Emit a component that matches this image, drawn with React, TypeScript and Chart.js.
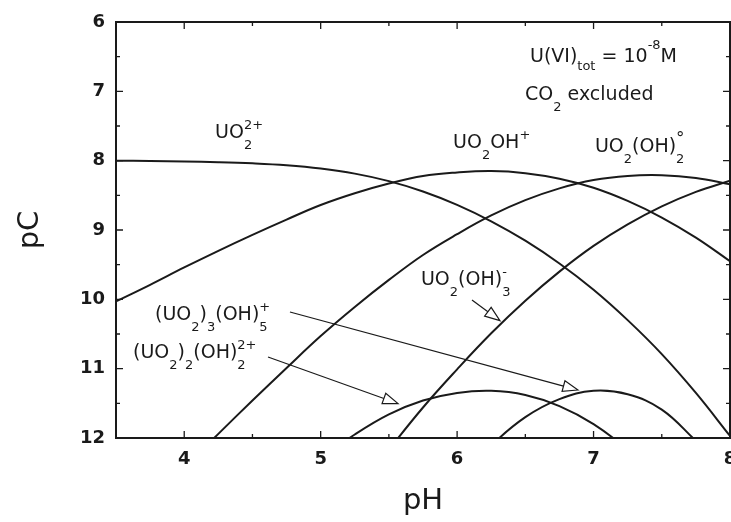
import React, { useEffect, useRef } from 'react';
import { Chart, registerables } from 'chart.js';

Chart.register(...registerables);

// pH grid (x values) and pC for each species
const pH = [3.5, 3.75, 4.0, 4.25, 4.5, 4.75, 5.0, 5.25, 5.5, 5.75, 6.0, 6.25, 6.5, 6.75, 7.0, 7.25, 7.5, 7.75, 8.0];
const pC_UO2 = [8.0, 8.005, 8.012, 8.022, 8.039, 8.067, 8.114, 8.187, 8.295, 8.444, 8.637, 8.874, 9.154, 9.483, 9.862, 10.3, 10.79, 11.35, 11.97];
const pC_UO2OH = [10.03, 9.79, 9.54, 9.3, 9.07, 8.85, 8.64, 8.47, 8.33, 8.22, 8.17, 8.15, 8.18, 8.26, 8.39, 8.58, 8.82, 9.11, 9.45];
const pC_UO2OH2 = [13.42, 12.93, 12.43, 11.94, 11.46, 10.99, 10.53, 10.11, 9.72, 9.36, 9.06, 8.79, 8.57, 8.4, 8.28, 8.22, 8.21, 8.25, 8.34];
const pC_UO2OH3 = [17.87, 17.13, 16.38, 15.64, 14.91, 14.19, 13.48, 12.81, 12.17, 11.56, 11.01, 10.49, 10.02, 9.6, 9.23, 8.92, 8.66, 8.45, 8.29];
const pC_dimer = [15.08, 14.59, 14.1, 13.62, 13.15, 12.71, 12.3, 11.95, 11.66, 11.46, 11.35, 11.32, 11.38, 11.54, 11.8, 12.17, 12.64, 13.23, 13.92];
const pC_trimer = [23.25, 22.01, 20.78, 19.55, 18.35, 17.19, 16.08, 15.05, 14.12, 13.32, 12.65, 12.11, 11.7, 11.44, 11.32, 11.37, 11.59, 12.04, 12.5];

const seriesNames = ['UO2 2+', 'UO2OH+', 'UO2(OH)2', 'UO2(OH)3-', '(UO2)2(OH)2 2+', '(UO2)3(OH)5+'];
const seriesValues = [pC_UO2, pC_UO2OH, pC_UO2OH2, pC_UO2OH3, pC_dimer, pC_trimer];

const xTickValues = [4, 5, 6, 7, 8];
const yTickValues = [6, 7, 8, 9, 10, 11, 12];
const xMajorMarks = [4, 5, 6, 7];
const xMinorMarks = [4.5, 5.5, 6.5, 7.5];
const yMajorMarks = [7, 8, 9, 10, 11];
const yMinorMarks = [6.5, 7.5, 8.5, 9.5, 10.5, 11.5];

const INK = '#1a1a1a';
const FONT = '"DejaVu Sans", "Liberation Sans", sans-serif';

type Seg = { t: string; k?: 'n' | 'b' | 'p'; stack?: boolean; size?: number; dy?: number };

// labels anchored in data coordinates [pH, pC] (left edge, baseline)
const labels: { at: [number, number]; segs: Seg[] }[] = [
  { at: [4.226, 7.68], segs: [{ t: 'UO' }, { t: '2', k: 'b', stack: true }, { t: '2+', k: 'p' }] },
  { at: [5.97, 7.82], segs: [{ t: 'UO' }, { t: '2', k: 'b' }, { t: 'OH' }, { t: '+', k: 'p' }] },
  { at: [7.01, 7.875], segs: [{ t: 'UO' }, { t: '2', k: 'b' }, { t: '(OH)' }, { t: '2', k: 'b', stack: true }, { t: '°', k: 'p', size: 17, dy: -8 }] },
  { at: [6.534, 6.577], segs: [{ t: 'U(VI)' }, { t: 'tot', k: 'b', dy: 8 }, { t: ' = 10' }, { t: '-8', k: 'p', dy: -13 }, { t: 'M' }] },
  { at: [6.498, 7.125], segs: [{ t: 'CO' }, { t: '2', k: 'b' }, { t: ' excluded' }] },
  { at: [5.735, 9.793], segs: [{ t: 'UO' }, { t: '2', k: 'b' }, { t: '(OH)' }, { t: '3', k: 'b', stack: true }, { t: '-', k: 'p' }] },
  { at: [3.786, 10.298], segs: [{ t: '(UO' }, { t: '2', k: 'b' }, { t: ')' }, { t: '3', k: 'b' }, { t: '(OH)' }, { t: '5', k: 'b', stack: true }, { t: '+', k: 'p' }] },
  { at: [3.625, 10.846], segs: [{ t: '(UO' }, { t: '2', k: 'b' }, { t: ')' }, { t: '2', k: 'b' }, { t: '(OH)' }, { t: '2', k: 'b', stack: true }, { t: '2+', k: 'p' }] },
];

const arrows: { from: [number, number]; to: [number, number] }[] = [
  { from: [6.109, 10.01], to: [6.314, 10.308] },
  { from: [4.775, 10.183], to: [6.886, 11.308] },
  { from: [4.614, 10.832], to: [5.567, 11.503] },
];

function drawRich(ctx: CanvasRenderingContext2D, x0: number, y0: number, segs: Seg[]) {
  let x = x0;
  let pending = 0;
  for (const s of segs) {
    const k = s.k || 'n';
    const size = s.size ?? (k === 'n' ? 19 : 13);
    const dy = s.dy ?? (k === 'b' ? 11 : k === 'p' ? -9 : 0);
    ctx.font = `${size}px ${FONT}`;
    ctx.fillText(s.t, x, y0 + dy);
    const w = ctx.measureText(s.t).width;
    if (s.stack) {
      pending = w;
    } else {
      x += Math.max(w, pending);
      pending = 0;
    }
  }
}

const decor = {
  id: 'decor',
  beforeDraw(chart: any) {
    const ctx = chart.ctx;
    ctx.save();
    ctx.fillStyle = '#ffffff';
    ctx.fillRect(0, 0, chart.width, chart.height);
    ctx.restore();
  },
  afterDatasetsDraw(chart: any) {
    const { ctx, chartArea: a, scales } = chart;
    const xs = scales.x;
    const ys = scales.y;
    ctx.save();
    ctx.strokeStyle = INK;
    ctx.fillStyle = INK;
    // frame
    ctx.lineWidth = 2;
    ctx.strokeRect(a.left, a.top, a.right - a.left, a.bottom - a.top);
    // inward ticks
    ctx.lineWidth = 1.3;
    ctx.beginPath();
    const xt = (v: number, len: number) => {
      const p = xs.getPixelForValue(v);
      ctx.moveTo(p, a.bottom);
      ctx.lineTo(p, a.bottom - len);
      ctx.moveTo(p, a.top);
      ctx.lineTo(p, a.top + len);
    };
    const yt = (v: number, len: number) => {
      const p = ys.getPixelForValue(v);
      ctx.moveTo(a.left, p);
      ctx.lineTo(a.left + len, p);
      ctx.moveTo(a.right, p);
      ctx.lineTo(a.right - len, p);
    };
    xMajorMarks.forEach((v) => xt(v, 7));
    xMinorMarks.forEach((v) => xt(v, 4));
    yMajorMarks.forEach((v) => yt(v, 7));
    yMinorMarks.forEach((v) => yt(v, 4));
    ctx.stroke();

    // labels
    ctx.fillStyle = INK;
    ctx.textBaseline = 'alphabetic';
    ctx.textAlign = 'left';
    for (const l of labels) {
      drawRich(ctx, xs.getPixelForValue(l.at[0]), ys.getPixelForValue(l.at[1]), l.segs);
    }

    // arrows with hollow heads
    ctx.lineWidth = 1.2;
    for (const ar of arrows) {
      const x0 = xs.getPixelForValue(ar.from[0]);
      const y0 = ys.getPixelForValue(ar.from[1]);
      const x1 = xs.getPixelForValue(ar.to[0]);
      const y1 = ys.getPixelForValue(ar.to[1]);
      const len = Math.hypot(x1 - x0, y1 - y0);
      const ux = (x1 - x0) / len;
      const uy = (y1 - y0) / len;
      const L = 15;
      const W = 5.5;
      const bx = x1 - ux * L;
      const by = y1 - uy * L;
      ctx.beginPath();
      ctx.moveTo(x0, y0);
      ctx.lineTo(bx, by);
      ctx.stroke();
      ctx.beginPath();
      ctx.moveTo(x1, y1);
      ctx.lineTo(bx - uy * W, by + ux * W);
      ctx.lineTo(bx + uy * W, by - ux * W);
      ctx.closePath();
      ctx.fillStyle = '#ffffff';
      ctx.fill();
      ctx.stroke();
    }
    ctx.restore();
  },
};

export default function App() {
  const ref = useRef<HTMLCanvasElement>(null);
  useEffect(() => {
    const canvas = ref.current;
    if (!canvas) return;
    const chart = new Chart(canvas, {
      type: 'line',
      data: {
        datasets: seriesValues.map((vals, i) => ({
          label: seriesNames[i],
          data: pH.map((x, j) => ({ x, y: vals[j] })),
          borderColor: INK,
          borderWidth: 2,
          pointRadius: 0,
          fill: false,
          tension: 0.4,
          capBezierPoints: false,
        })),
      },
      options: {
        responsive: false,
        animation: false,
        devicePixelRatio: 1,
        events: [],
        layout: { padding: { top: 22, right: 1, bottom: 0, left: 0 } },
        plugins: {
          legend: { display: false },
          tooltip: { enabled: false },
          title: { display: false },
        },
        scales: {
          x: {
            type: 'linear',
            min: 3.5,
            max: 8,
            afterBuildTicks: (s: any) => {
              s.ticks = xTickValues.map((v) => ({ value: v }));
            },
            afterFit: (s: any) => {
              s.height = 84;
              s.paddingLeft = 0;
              s.paddingRight = 0;
            },
            grid: { display: false, drawTicks: false },
            border: { display: false },
            ticks: {
              autoSkip: false,
              maxRotation: 0,
              minRotation: 0,
              padding: 11,
              color: INK,
              font: { family: FONT, size: 18, weight: 'bold' },
            },
            title: {
              display: true,
              text: 'pH',
              color: INK,
              font: { family: FONT, size: 29 },
              padding: { top: 0, bottom: 3 },
            },
          },
          y: {
            type: 'linear',
            reverse: true,
            min: 6,
            max: 12,
            afterBuildTicks: (s: any) => {
              s.ticks = yTickValues.map((v) => ({ value: v }));
            },
            afterFit: (s: any) => {
              s.width = 116;
              s.paddingTop = 0;
              s.paddingBottom = 0;
            },
            grid: { display: false, drawTicks: false },
            border: { display: false },
            ticks: {
              autoSkip: false,
              padding: 11,
              color: INK,
              font: { family: FONT, size: 18, weight: 'bold' },
            },
            title: {
              display: true,
              text: 'pC',
              color: INK,
              font: { family: FONT, size: 29 },
              padding: { top: 13, bottom: 0 },
            },
          },
        },
      },
      plugins: [decor],
    } as any);
    return () => chart.destroy();
  }, []);
  return (
    <div style={{ position: 'absolute', left: 0, top: 0, width: 731, height: 522, background: '#fff' }}>
      <canvas ref={ref} width={731} height={522} style={{ display: 'block' }} />
    </div>
  );
}
